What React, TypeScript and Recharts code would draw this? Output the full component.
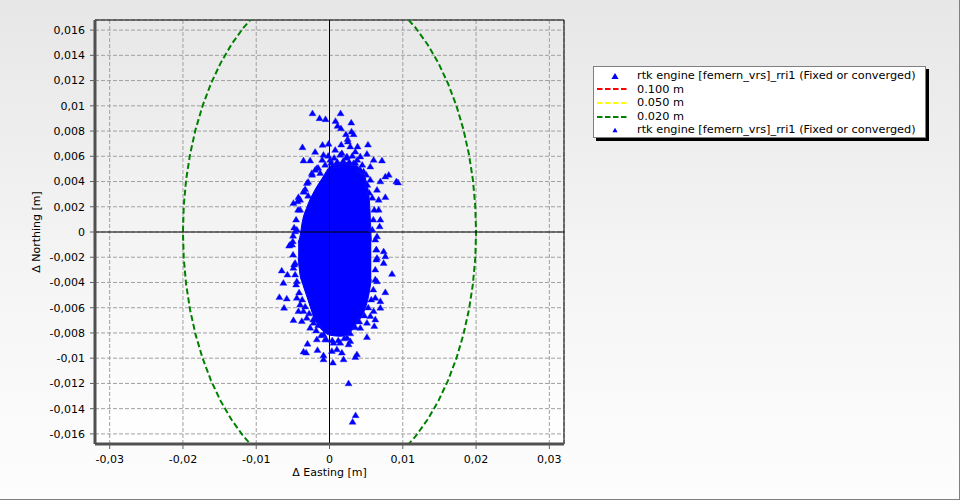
import React from 'react';
import {
  ComposedChart,
  XAxis,
  YAxis,
  CartesianGrid,
  Scatter,
  Line,
  Area,
  ReferenceLine,
  ReferenceArea,
} from 'recharts';

// ---------- axes ----------
const xDomain: [number, number] = [-0.032, 0.032];
const yDomain: [number, number] = [-0.0168, 0.0168];
const xMajorTicks = [-0.03, -0.02, -0.01, 0, 0.01, 0.02, 0.03];
const yMajorTicks = [
  -0.016, -0.014, -0.012, -0.01, -0.008, -0.006, -0.004, -0.002, 0,
  0.002, 0.004, 0.006, 0.008, 0.01, 0.012, 0.014, 0.016,
];
const xMinorTicks = [
  -0.0275, -0.025, -0.0225, -0.0175, -0.015, -0.0125, -0.0075, -0.005, -0.0025,
  0.0025, 0.005, 0.0075, 0.0125, 0.015, 0.0175, 0.0225, 0.025, 0.0275,
];
const yMinorTicks = [
  -0.0165, -0.0155, -0.015, -0.0145, -0.0135, -0.013, -0.0125, -0.0115, -0.011,
  -0.0105, -0.0095, -0.009, -0.0085, -0.0075, -0.007, -0.0065, -0.0055, -0.005,
  -0.0045, -0.0035, -0.003, -0.0025, -0.0015, -0.001, -0.0005,
  0.0005, 0.001, 0.0015, 0.0025, 0.003, 0.0035, 0.0045, 0.005, 0.0055, 0.0065,
  0.007, 0.0075, 0.0085, 0.009, 0.0095, 0.0105, 0.011, 0.0115, 0.0125, 0.013,
  0.0135, 0.0145, 0.015, 0.0155, 0.0165,
];
const xTitle = 'Δ Easting [m]';
const yTitle = 'Δ Northing [m]';

// ---------- legend ----------
const legendLabels = [
  'rtk engine [femern_vrs]_rri1 (Fixed or converged)',
  '0.100 m',
  '0.050 m',
  '0.020 m',
  'rtk engine [femern_vrs]_rri1 (Fixed or converged)',
];
const legendKinds = ['triBig', 'dash', 'dash', 'dash', 'triSmall'];
const legendColors = ['#0000ff', '#ff0000', '#ffff00', '#008000', '#0000ff'];

// ---------- dense core of the solution cloud (easting, northing low/high) ----------
const coreEast = [
  -0.00428, -0.00401, -0.00373, -0.00305, -0.00196, -0.001, 0.0001, 0.00146,
  0.00256, 0.00352, 0.00447, 0.00502, 0.00543, 0.0057,
];
const coreNorthLow = [
  -0.00202, -0.00344, -0.00399, -0.00518, -0.007, -0.00779, -0.00818, -0.00826,
  -0.0081, -0.00739, -0.0066, -0.00581, -0.00478, -0.00375,
];
const coreNorthHigh = [
  -0.00083, -0.00028, 0.00075, 0.00202, 0.00336, 0.00425, 0.0052, 0.0055,
  0.0055, 0.0053, 0.0048, 0.00399, 0.00257, -0.00075,
];

// ---------- individual fixes around the core [easting, northing] ----------
const fixPoints: [number, number][] = [
  // outer fixes
  [-0.00232, 0.00942], [-0.00136, 0.00903], [-0.00054, 0.00895], [0.00151, 0.00942],
  [0.00082, 0.00881], [0.0011, 0.00842], [0.00156, 0.00823], [0.00297, 0.00868],
  [0.00301, 0.00797], [0.00224, 0.00776], [0.00329, 0.00776], [0.00247, 0.00737],
  [-0.00369, 0.00673], [-0.00095, 0.00692], [-0.00013, 0.007], [0.0016, 0.00694],
  [0.00251, 0.00718], [0.00283, 0.00679], [0.00383, 0.00679], [0.00525, 0.00694],
  [0.00511, 0.00621], [0.0042, 0.006], [0.00169, 0.00626], [-0.00082, 0.00613],
  [-0.00196, 0.00636], [-0.00355, 0.00568], [-0.00264, 0.00568], [0.00716, 0.00568],
  [0.00602, 0.00573], [0.00557, 0.0052], [-0.00241, 0.00468], [-0.00173, 0.00507],
  [0.00808, 0.00455], [0.00762, 0.00441], [0.00912, 0.00402], [0.00935, 0.00394],
  [0.00694, 0.00402], [0.00648, 0.00336], [0.00762, 0.00278], [0.00671, 0.00257],
  [-0.00332, 0.00341], [-0.00355, 0.00323], [-0.00424, 0.00278], [-0.00492, 0.00231],
  [-0.00437, 0.00244], [-0.00401, 0.00178], [0.00671, 0.00178], [0.00694, 0.00099],
  [0.00684, 0.00046], [-0.00469, 0.00007], [-0.00446, 0.0002], [0.00648, -0.00033],
  [-0.00501, -0.00072], [-0.00538, -0.00099],
  [0.0001, 0.00573], [0.00238, 0.006], [0.00328, 0.00547], [0.00101, 0.00534],
  [-0.00127, 0.00468], [0.00465, 0.00481], [0.00557, 0.00415], [-0.00309, 0.00389],
  [0.00078, 0.00652], [0.00352, 0.00639],
  [-0.00551, -0.00107], [0.00639, -0.00138], [0.00739, -0.00152], [0.00762, -0.00191],
  [0.00648, -0.00204], [0.00739, -0.00244], [0.00853, -0.00331], [-0.00469, -0.00244],
  [-0.00492, -0.00283], [-0.00652, -0.00304], [-0.00574, -0.00336], [-0.00629, -0.00402],
  [-0.00446, -0.00389], [-0.00684, -0.00515], [-0.00583, -0.00526], [-0.0062, -0.00599],
  [-0.00446, -0.0052], [-0.00401, -0.00573], [0.00648, -0.00389], [0.00762, -0.00476],
  [0.00625, -0.0052], [0.00694, -0.00547], [0.00694, -0.00599], [0.00602, -0.00626],
  [0.00557, -0.00665], [-0.00492, -0.00697], [-0.00424, -0.00626], [-0.00378, -0.00705],
  [-0.0031, -0.00679], [-0.00218, -0.00718], [0.00511, -0.00718], [0.00625, -0.00692],
  [0.00611, -0.00744], [0.0042, -0.00758], [0.00511, -0.00831], [0.00283, -0.00863],
  [0.00146, -0.00876], [0.00055, -0.00876], [-0.00059, -0.0085], [-0.00173, -0.0085],
  [-0.003, -0.00884], [-0.00355, -0.00947], [-0.00319, -0.00955], [-0.00164, -0.00934],
  [-0.00082, -0.01008], [-0.00082, -0.00976], [0.00032, -0.00942], [0.00101, -0.00929],
  [0.00169, -0.00955], [0.00192, -0.01008], [0.0026, -0.00889], [0.00374, -0.00968],
  [0.00352, -0.00989], [0.00046, -0.01034],
  [-0.00082, -0.0081], [0.00238, -0.00836], [-0.00264, -0.00757], [-0.00356, -0.00626],
  [0.0026, -0.01198], [0.00356, -0.01451], [0.00315, -0.01503],
  // fixes crowding the edge of the core (top)
  [-0.001, 0.00573], [-0.00018, 0.00605], [0.00064, 0.00589], [0.00146, 0.00613],
  [0.00228, 0.00589], [0.00311, 0.00605], [0.00379, 0.00573], [0.00447, 0.00534],
  [-0.00155, 0.0051], [-0.00059, 0.00534], [0.00023, 0.00549], [0.00105, 0.00557],
  [0.00187, 0.00565], [0.00269, 0.00557], [0.00352, 0.00549], [0.0042, 0.00494],
  [0.00502, 0.00455], [-0.00237, 0.00455], [-0.00291, 0.00399], [-0.00196, 0.00494],
  [0.00516, 0.00375], [0.00543, 0.00312],
  // left edge
  [-0.00401, 0.00257], [-0.00346, 0.0032], [-0.00428, 0.00178], [-0.00456, 0.00099],
  [-0.00483, 0.00036], [-0.00497, -0.00028], [-0.0051, -0.00099], [-0.00497, -0.00178],
  [-0.00483, -0.00257], [-0.00469, -0.00336], [-0.00456, -0.00415], [-0.00415, -0.00478],
  [-0.00373, -0.00534], [-0.00332, -0.00589], [-0.00278, -0.00644], [-0.00223, -0.00692],
  [-0.00155, -0.00739], [-0.00291, 0.00289],
  // right edge
  [0.00584, 0.00273], [0.00611, 0.00178], [0.00598, 0.00099], [0.00584, 0.0002],
  [0.00625, -0.00059], [0.00639, -0.00138], [0.00639, -0.00217], [0.00625, -0.00296],
  [0.00625, -0.00375], [0.00598, -0.00455], [0.0057, -0.00534], [0.00529, -0.00597],
  [0.00475, -0.0066], [0.00406, -0.00708], [0.00352, -0.00755], [0.00283, -0.00802],
  // bottom edge
  [0.00201, -0.00842], [0.00119, -0.00858], [0.00037, -0.00858], [-0.00045, -0.0085],
  [-0.00114, -0.00818], [-0.00182, -0.00779],
];

// ---------- accuracy circles [easting, northing] ----------
const circle020: [number, number][] = [
  [0.008135, 0.018271], [0.01, 0.017321], [0.011756, 0.01618], [0.013383, 0.014863],
  [0.014863, 0.013383], [0.01618, 0.011756], [0.017321, 0.01], [0.018271, 0.008135],
  [0.019021, 0.00618], [0.019563, 0.004158], [0.01989, 0.002091], [0.02, 0],
  [0.01989, -0.002091], [0.019563, -0.004158], [0.019021, -0.00618], [0.018271, -0.008135],
  [0.017321, -0.01], [0.01618, -0.011756], [0.014863, -0.013383], [0.013383, -0.014863],
  [0.011756, -0.01618], [0.01, -0.017321], [0.008135, -0.018271],
  [-0.008135, -0.018271], [-0.01, -0.017321], [-0.011756, -0.01618], [-0.013383, -0.014863],
  [-0.014863, -0.013383], [-0.01618, -0.011756], [-0.017321, -0.01], [-0.018271, -0.008135],
  [-0.019021, -0.00618], [-0.019563, -0.004158], [-0.01989, -0.002091], [-0.02, 0],
  [-0.01989, 0.002091], [-0.019563, 0.004158], [-0.019021, 0.00618], [-0.018271, 0.008135],
  [-0.017321, 0.01], [-0.01618, 0.011756], [-0.014863, 0.013383], [-0.013383, 0.014863],
  [-0.011756, 0.01618], [-0.01, 0.017321], [-0.008135, 0.018271], [0.008135, 0.018271],
];
const circle050: [number, number][] = [
  [0.05, 0], [0.0433, 0.025], [0.025, 0.0433], [0, 0.05], [-0.025, 0.0433], [-0.0433, 0.025],
  [-0.05, 0], [-0.0433, -0.025], [-0.025, -0.0433], [0, -0.05], [0.025, -0.0433], [0.0433, -0.025], [0.05, 0],
];
const circle100: [number, number][] = [
  [0.1, 0], [0.0866, 0.05], [0.05, 0.0866], [0, 0.1], [-0.05, 0.0866], [-0.0866, 0.05],
  [-0.1, 0], [-0.0866, -0.05], [-0.05, -0.0866], [0, -0.1], [0.05, -0.0866], [0.0866, -0.05], [0.1, 0],
];

const toXY = (pts: [number, number][]) => pts.map(([x, y]) => ({ x, y }));
const fixData = toXY(fixPoints);
const c020 = toXY(circle020);
const c050 = toXY(circle050);
const c100 = toXY(circle100);
const coreData = coreEast.map((x, i) => ({ x, range: [coreNorthLow[i], coreNorthHigh[i]] }));

const FONT = '"DejaVu Sans", Verdana, sans-serif';
const fmt = (v: number) => String(v).replace('.', ',');

const Triangle = (props: any) => {
  const { cx, cy } = props;
  if (cx == null || cy == null) return <g />;
  return (
    <polygon
      points={`${cx},${cy - 3.2} ${cx + 3.5},${cy + 2.6} ${cx - 3.5},${cy + 2.6}`}
      fill="#0000ff"
      stroke="#1a1aff"
      strokeWidth={0.4}
    />
  );
};

const LegendIcon = ({ kind, color }: { kind: string; color: string }) => {
  if (kind === 'dash') {
    return (
      <svg width={34} height={12}>
        <line x1={1} y1={6} x2={33} y2={6} stroke={color} strokeWidth={2} strokeDasharray="5.5 2.5" />
      </svg>
    );
  }
  const big = kind === 'triBig';
  const h = big ? 6 : 4.5;
  const w = big ? 3.6 : 2.6;
  return (
    <svg width={34} height={12}>
      <polygon points={`19,${6 - h / 2} ${19 + w},${6 + h / 2} ${19 - w},${6 + h / 2}`} fill={color} />
    </svg>
  );
};

export default function App() {
  return (
    <div
      style={{
        position: 'relative',
        width: 960,
        height: 500,
        boxSizing: 'border-box',
        borderRight: '1px solid #808080',
        borderBottom: '1px solid #808080',
        background: 'linear-gradient(to bottom, #e7e7e7 0%, #f6f6f6 60%, #fdfdfd 100%)',
        fontFamily: FONT,
        overflow: 'hidden',
      }}
    >
      <style>{'body{margin:0}'}</style>
      <ComposedChart
        width={959}
        height={499}
        margin={{ top: 20, right: 395, bottom: 0, left: 30 }}
        style={{ fontFamily: FONT }}
      >
        <defs>
          <linearGradient id="plotBg" x1="0" y1="0" x2="0" y2="1">
            <stop offset="0%" stopColor="#e8e8e8" />
            <stop offset="100%" stopColor="#ffffff" />
          </linearGradient>
        </defs>
        <XAxis
          xAxisId="minor"
          type="number"
          dataKey="x"
          domain={xDomain}
          allowDataOverflow
          ticks={xMinorTicks}
          interval={0}
          tick={false}
          tickSize={3.5}
          tickLine={{ stroke: '#606060' }}
          axisLine={false}
          height={0}
        />
        <YAxis
          yAxisId="minor"
          type="number"
          dataKey="y"
          domain={yDomain}
          allowDataOverflow
          ticks={yMinorTicks}
          interval={0}
          tick={false}
          tickSize={3.5}
          tickLine={{ stroke: '#606060' }}
          axisLine={false}
          width={0}
        />
        <XAxis
          type="number"
          dataKey="x"
          domain={xDomain}
          allowDataOverflow
          ticks={xMajorTicks}
          interval={0}
          tickFormatter={fmt}
          tickSize={5}
          tickMargin={6}
          tick={{ fill: '#000', fontSize: 11, fontFamily: FONT }}
          tickLine={{ stroke: '#606060' }}
          axisLine={{ stroke: '#505050', strokeWidth: 3 }}
          height={55}
          label={{ value: xTitle, position: 'insideBottom', offset: 23, fill: '#000', fontSize: 11, fontFamily: FONT }}
        />
        <YAxis
          type="number"
          dataKey="y"
          domain={yDomain}
          allowDataOverflow
          ticks={yMajorTicks}
          interval={0}
          tickFormatter={fmt}
          tickSize={5}
          tickMargin={5}
          tick={{ fill: '#000', fontSize: 11, fontFamily: FONT }}
          tickLine={{ stroke: '#606060' }}
          axisLine={{ stroke: '#505050', strokeWidth: 3 }}
          width={65}
          label={{
            value: yTitle,
            angle: -90,
            position: 'insideLeft',
            offset: 6,
            fill: '#000',
            fontSize: 11,
            fontFamily: FONT,
            style: { textAnchor: 'middle' },
          }}
        />
        <CartesianGrid fill="url(#plotBg)" stroke="#a0a0a0" strokeDasharray="4 2" />
        <Line data={c100} dataKey="y" stroke="#ff0000" strokeWidth={2} strokeDasharray="6 3" dot={false} activeDot={false} isAnimationActive={false} />
        <Line data={c050} dataKey="y" stroke="#ffff00" strokeWidth={2} strokeDasharray="6 3" dot={false} activeDot={false} isAnimationActive={false} />
        <Line data={c020} dataKey="y" stroke="#008000" strokeWidth={2} strokeDasharray="6 3" dot={false} activeDot={false} isAnimationActive={false} />
        <Area
          data={coreData}
          dataKey="range"
          type="monotone"
          stroke="#0000ff"
          strokeWidth={1}
          fill="#0000ff"
          fillOpacity={1}
          dot={false}
          activeDot={false}
          isAnimationActive={false}
        />
        <Scatter data={fixData} dataKey="y" fill="#0000ff" shape={Triangle} isAnimationActive={false} />
        <ReferenceLine x={0} stroke="#000" strokeWidth={1} />
        <ReferenceLine y={0} stroke="#000" strokeWidth={1} />
        <ReferenceArea x1={xDomain[0]} x2={xDomain[1]} y1={yDomain[0]} y2={yDomain[1]} fill="none" stroke="#000" strokeWidth={1} fillOpacity={0} />
      </ComposedChart>

      <div
        style={{
          position: 'absolute',
          left: 593,
          top: 66,
          width: 333,
          height: 72,
          boxSizing: 'border-box',
          background: '#ffffff',
          border: '1px solid #808080',
          boxShadow: '3px 3px 0 #000',
          paddingTop: 2,
          fontFamily: FONT,
          fontSize: 11.3,
          color: '#000',
        }}
      >
        {legendLabels.map((label, i) => (
          <div key={i} style={{ display: 'flex', alignItems: 'center', height: 13.6, lineHeight: '13.6px', whiteSpace: 'nowrap' }}>
            <div style={{ width: 41, paddingLeft: 2, display: 'flex', alignItems: 'center' }}>
              <LegendIcon kind={legendKinds[i]} color={legendColors[i]} />
            </div>
            <span>{label}</span>
          </div>
        ))}
      </div>
    </div>
  );
}
